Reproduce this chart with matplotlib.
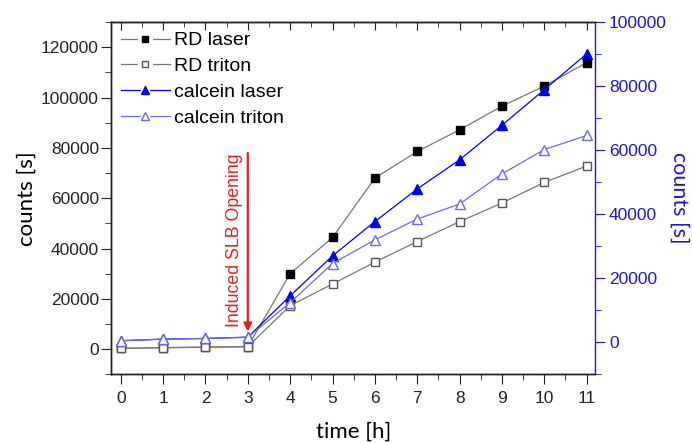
import numpy as np
import matplotlib
matplotlib.use("Agg")
import matplotlib.pyplot as plt
from matplotlib.ticker import MultipleLocator
from matplotlib.lines import Line2D
from matplotlib.legend_handler import HandlerTuple

# data (time in h, counts)
time = [0, 1, 2, 3, 4, 5, 6, 7, 8, 9, 10, 11]
rd_laser = [300, 600, 800, 1000, 30000, 44400, 68000, 78600, 87200, 96600, 104600, 113900]
rd_triton = [300, 600, 800, 1000, 17300, 25900, 34600, 42800, 50700, 58100, 66300, 72800]
calcein_laser = [500, 1000, 1200, 1600, 14500, 27000, 37700, 47900, 57000, 67800, 78900, 90100]
calcein_triton = [500, 1000, 1200, 1600, 12400, 24600, 32000, 38500, 43200, 52600, 60200, 64600]

labels = ['RD laser', 'RD triton', 'calcein laser', 'calcein triton']

plt.rcParams['font.family'] = ['Liberation Sans', 'DejaVu Sans']
label_font = ['Lato', 'DejaVu Sans']

grey = '#555555'
lgrey = '#777777'
blue = '#0000ee'
lblue = '#6a6ae6'
axblue = '#1a1acc'
dark = '#222222'

fig = plt.figure(figsize=(6.92, 4.43), dpi=100)
ax1 = fig.add_axes([0.161, 0.155, 0.699, 0.795])
ax2 = ax1.twinx()

ax1.plot(time, rd_laser, '-', color=lgrey, lw=0.9, marker='s', ms=6,
         mfc='black', mec='black')
ax1.plot(time, rd_triton, '-', color=lgrey, lw=0.9, marker='s', ms=6,
         mfc='white', mec=grey, mew=1.0)
ax2.plot(time, calcein_laser, '-', color=blue, lw=0.9, marker='^', ms=7,
         mfc=blue, mec=blue)
ax2.plot(time, calcein_triton, '-', color=lblue, lw=0.9, marker='^', ms=7,
         mfc='white', mec=lblue, mew=1.0)

ax1.set_xlim(-0.22, 11.2)
ax1.set_ylim(-10000, 130000)
ax2.set_ylim(-10000, 100000)

ax1.xaxis.set_major_locator(MultipleLocator(1))
ax1.xaxis.set_minor_locator(MultipleLocator(0.5))
ax1.yaxis.set_major_locator(MultipleLocator(20000))
ax1.yaxis.set_minor_locator(MultipleLocator(10000))
ax2.yaxis.set_major_locator(MultipleLocator(20000))
ax2.yaxis.set_minor_locator(MultipleLocator(10000))

ax1.tick_params(axis='y', which='major', direction='out', length=7, pad=2,
                labelsize=12.5, colors=dark)
ax1.tick_params(axis='y', which='minor', direction='out', length=4, color=dark)
ax1.tick_params(axis='x', which='major', direction='out', length=7, pad=5,
                labelsize=12.5, colors=dark)
ax1.tick_params(axis='x', which='minor', direction='out', length=4, color=dark)

# inward ticks along the top
top = ax1.secondary_xaxis('top')
top.xaxis.set_major_locator(MultipleLocator(1))
top.xaxis.set_minor_locator(MultipleLocator(0.5))
top.tick_params(which='major', direction='in', length=6, labeltop=False, color=dark)
top.tick_params(which='minor', direction='in', length=3.5, color=dark)
top.spines['top'].set_color(dark)

ax2.tick_params(axis='y', which='major', direction='out', length=7, pad=3,
                labelsize=12.5, colors=axblue)
ax2.tick_params(axis='y', which='minor', direction='out', length=4, color=axblue)
ax2.spines['right'].set_color(axblue)
for a in (ax1, ax2):
    for s in a.spines.values():
        s.set_linewidth(1.0)
ax1.spines['right'].set_visible(False)
ax2.spines['left'].set_color(dark)
ax2.spines['bottom'].set_color(dark)
ax2.spines['top'].set_color(dark)

ax1.set_xlabel('time [h]', fontsize=16, family=label_font, labelpad=11)
ax1.set_ylabel('counts [s]', fontsize=16, family=label_font, labelpad=3)
ax2.set_ylabel('counts [s]', fontsize=15.5, family=label_font, color=axblue,
               rotation=270, labelpad=16)

# arrow marking the opening
ax1.annotate('', xy=(3, 7000), xytext=(3, 78000),
             arrowprops=dict(arrowstyle='-|>', color='#e02020', lw=1.6,
                             mutation_scale=12, shrinkA=0, shrinkB=0))
ax1.text(2.68, 43500, 'Induced SLB Opening', rotation=90, color='#e02020',
         fontsize=12.8, ha='center', va='center')

# legend handles: line with a gap around the marker, Origin style
def gap_handle(col, mk, ms, fc, ec):
    line = Line2D([], [], color=col, lw=0.9)
    gap = Line2D([], [], ls='', marker=mk, ms=ms + 5, mfc='white', mec='white')
    mark = Line2D([], [], ls='', marker=mk, ms=ms, mfc=fc, mec=ec)
    return (line, gap, mark)

handles = [
    gap_handle(lgrey, 's', 5, 'black', 'black'),
    gap_handle(lgrey, 's', 5, 'white', grey),
    gap_handle(blue, '^', 6, blue, blue),
    gap_handle(lblue, '^', 6, 'white', lblue),
]
ax2.legend(handles, labels, loc='upper left', frameon=False, fontsize=14,
           handlelength=2.5, handletextpad=0.2, labelspacing=0.42,
           borderaxespad=0.3, borderpad=0.2,
           handler_map={tuple: HandlerTuple(ndivide=1, pad=0)})

fig.savefig('out.png', dpi=100)
